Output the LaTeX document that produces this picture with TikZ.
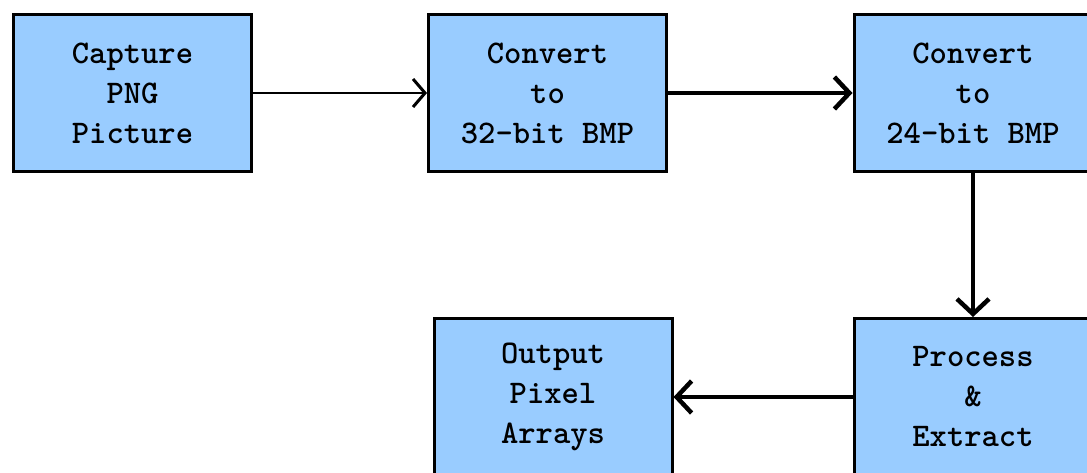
\documentclass[tikz,border=0pt]{standalone}
\usepackage{fontspec}
\usetikzlibrary{arrows.meta}
\definecolor{boxblue}{RGB}{153,204,255}
\begin{document}
\begin{tikzpicture}[x=1pt,y=-1pt,
  stepbox/.style={draw=black, line width=3pt, fill=boxblue, minimum width=238pt,
    minimum height=157pt, inner sep=0pt, align=center,
    font=\ttfamily\bfseries\fontsize{33}{40}\selectfont},
  thinflow/.style={line width=2pt, -{Straight Barb[length=12pt,width=28pt,line width=3pt]}},
  thickflow/.style={line width=4.5pt, -{Straight Barb[length=15pt,width=32pt,line width=4.5pt]}}]
  \useasboundingbox (0,0) rectangle (1087,472);
  \node[stepbox] (cap) at (132.5,93) {Capture\\PNG\\Picture};
  \node[stepbox] (c32) at (547.5,93) {Convert\\to\\32-bit BMP};
  \node[stepbox] (c24) at (973,93) {Convert\\to\\24-bit BMP};
  \node[stepbox] (out) at (553,397) {Output\\Pixel\\Arrays};
  \node[stepbox] (proc) at (973,397) {Process\\\&\\Extract};
  \draw[thinflow] (cap.east) -- (c32.west);
  \draw[thickflow] (c32.east) -- (c24.west);
  \draw[thickflow] (c24.south) -- (proc.north);
  \draw[thickflow] (proc.west) -- (out.east);
\end{tikzpicture}
\end{document}
